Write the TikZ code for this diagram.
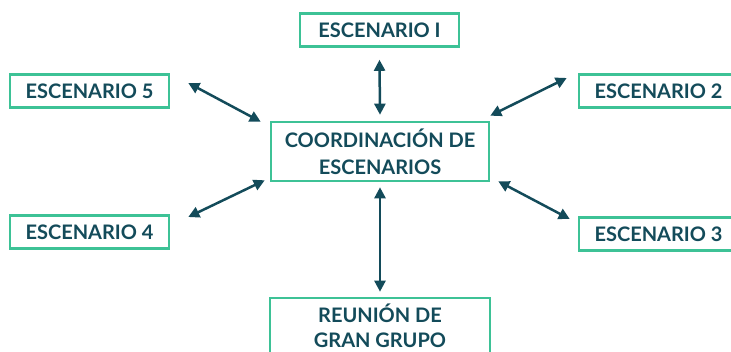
\documentclass[tikz,border=0pt]{standalone}
\usepackage{fontspec}
\setmainfont{Lato}
\usetikzlibrary{arrows.meta,calc}
\definecolor{boxgreen}{HTML}{3DC296}
\definecolor{darkteal}{HTML}{134B5A}
\begin{document}
\begin{tikzpicture}[x=1pt,y=1pt,
  box/.style={draw=boxgreen,line width=2.6pt,fill=white,text=darkteal,
    font=\fontsize{20}{27}\selectfont\bfseries,align=center,inner sep=0pt},
  sbox/.style={box,minimum width=159pt,minimum height=33pt},
  conn/.style={draw=darkteal,line width=2.5pt,
    {Triangle[length=11pt,width=11pt]}-{Triangle[length=11pt,width=11pt]}}]
\useasboundingbox (0,0) rectangle (731,352);
\clip (0,0) rectangle (731,352);
\node[sbox] (esc1) at (379.5,322) {ESCENARIO I};
\node[sbox] (esc5) at (89.5,261) {ESCENARIO 5};
\node[sbox] (esc4) at (89.5,120) {ESCENARIO 4};
\node[sbox] (esc2) at (658.5,261) {ESCENARIO 2};
\node[sbox] (esc3) at (658.5,118) {ESCENARIO 3};
\node[box,minimum width=218pt,minimum height=59pt] (coord) at (380,200.5) {COORDINACIÓN DE\\ESCENARIOS};
\node[box,minimum width=220pt,minimum height=56pt] (reun) at (380,26) {REUNIÓN DE\\[-2pt]GRAN GRUPO};
\draw[conn] ($(esc1.south)+(0,-12)$) -- ($(coord.north)+(0,6)$);
\draw[conn] ($(coord.south)+(0,-5)$) -- ($(reun.north)+(0,5)$);
\draw[conn] ($(esc5.east)+(18,8)$) -- ($(coord.north west)+(-9,-1)$);
\draw[conn] ($(esc4.east)+(18,15)$) -- ($(coord.south west)+(-5,2)$);
\draw[conn] ($(esc2.west)+(-11,13)$) -- ($(coord.north east)+(0,5)$);
\draw[conn] ($(esc3.west)+(-8,15)$) -- ($(coord.south east)+(8,1)$);
\end{tikzpicture}
\end{document}
